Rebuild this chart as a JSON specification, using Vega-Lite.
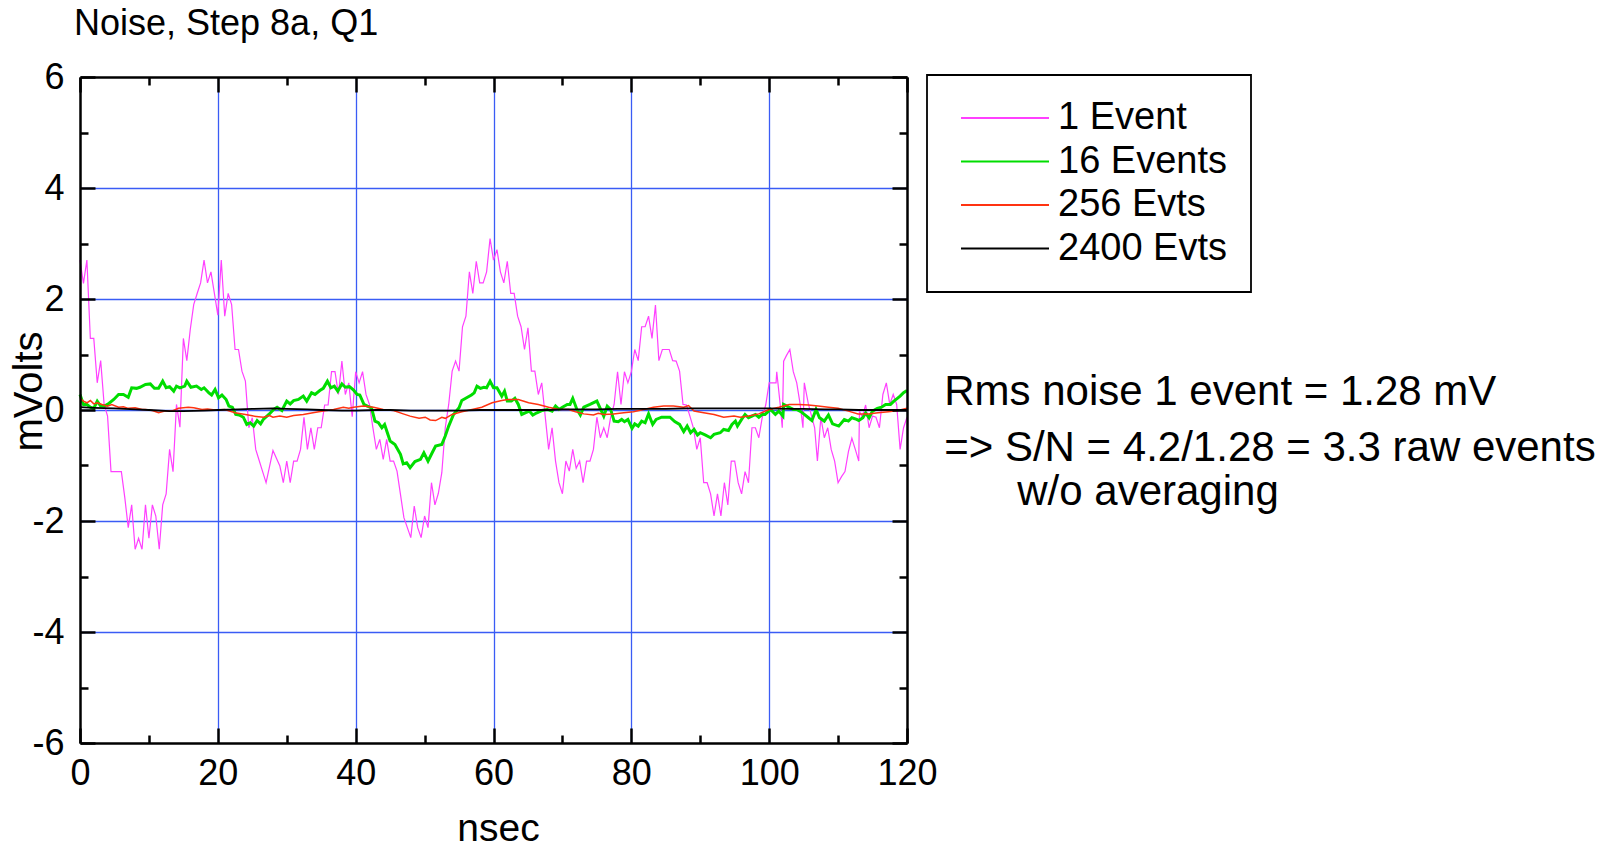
{
  "$schema": "https://vega.github.io/schema/vega-lite/v6.json",
  "width": 827,
  "height": 666,
  "autosize": {"type": "none"},
  "padding": {"left": 80, "top": 77, "right": 716, "bottom": 107},
  "background": "white",
  "title": {"text": "Noise, Step 8a, Q1", "anchor": "start", "frame": "group", "fontSize": 36, "fontWeight": "normal", "font": "Liberation Sans", "color": "black", "baseline": "alphabetic", "offset": -12, "dx": -6},
  "config": {
    "view": {"stroke": null},
    "axis": {"labelFont": "Liberation Sans", "titleFont": "Liberation Sans", "labelColor": "black", "titleColor": "black"},
    "legend": {"labelFont": "Liberation Sans"}
  },
  "datasets": {
    "ev1": [
      {"t":0,"v":2.7},{"t":0.5,"v":2.28},{"t":1,"v":2.7},{"t":1.5,"v":1.29},{"t":2,"v":1.29},{"t":2.5,"v":0.49},{"t":3,"v":0.89},{"t":3.5,"v":0.1},{"t":4,"v":-0.11},{"t":4.5,"v":-1.11},{"t":5,"v":-1.11},{"t":5.5,"v":-1.11},{"t":6,"v":-1.11},{"t":6.5,"v":-1.58},{"t":7,"v":-2.12},{"t":7.5,"v":-1.71},{"t":8,"v":-2.51},{"t":8.5,"v":-2.31},{"t":9,"v":-2.51},{"t":9.5,"v":-1.71},{"t":10,"v":-2.31},{"t":10.5,"v":-1.71},{"t":11,"v":-1.91},{"t":11.5,"v":-2.51},{"t":12,"v":-1.71},{"t":12.5,"v":-1.51},{"t":13,"v":-0.71},{"t":13.5,"v":-1.11},{"t":14,"v":0.1},{"t":14.5,"v":-0.31},{"t":15,"v":1.29},{"t":15.5,"v":0.89},{"t":16,"v":1.45},{"t":16.5,"v":1.9},{"t":17,"v":2.1},{"t":17.5,"v":2.29},{"t":18,"v":2.7},{"t":18.5,"v":2.29},{"t":19,"v":2.49},{"t":19.5,"v":2.1},{"t":20,"v":1.71},{"t":20.5,"v":2.7},{"t":21,"v":1.69},{"t":21.5,"v":2.1},{"t":22,"v":1.9},{"t":22.5,"v":1.09},{"t":23,"v":1.09},{"t":23.5,"v":0.7},{"t":24,"v":0.52},{"t":24.5,"v":-0.32},{"t":25,"v":-0.14},{"t":25.5,"v":-0.71},{"t":26,"v":-0.91},{"t":26.5,"v":-1.11},{"t":27,"v":-1.31},{"t":27.5,"v":-1.02},{"t":28,"v":-0.73},{"t":28.5,"v":-0.87},{"t":29,"v":-1.01},{"t":29.5,"v":-1.31},{"t":30,"v":-0.92},{"t":30.5,"v":-1.31},{"t":31,"v":-0.92},{"t":31.5,"v":-0.92},{"t":32,"v":-0.71},{"t":32.5,"v":-0.13},{"t":33,"v":-0.71},{"t":33.5,"v":-0.32},{"t":34,"v":-0.71},{"t":34.5,"v":-0.32},{"t":35,"v":-0.32},{"t":35.5,"v":0.09},{"t":36,"v":0.09},{"t":36.5,"v":0.69},{"t":37,"v":0.69},{"t":37.5,"v":0.28},{"t":38,"v":0.88},{"t":38.5,"v":0.28},{"t":39,"v":0.49},{"t":39.5,"v":-0.12},{"t":40,"v":0.69},{"t":40.5,"v":0.49},{"t":41,"v":0.69},{"t":41.5,"v":0.28},{"t":42,"v":0.1},{"t":42.5,"v":-0.32},{"t":43,"v":-0.71},{"t":43.5,"v":-0.53},{"t":44,"v":-0.89},{"t":44.5,"v":-0.53},{"t":45,"v":-0.92},{"t":45.5,"v":-0.92},{"t":46,"v":-1.1},{"t":46.5,"v":-1.52},{"t":47,"v":-1.94},{"t":47.5,"v":-2.12},{"t":48,"v":-2.3},{"t":48.5,"v":-1.73},{"t":49,"v":-2.12},{"t":49.5,"v":-2.3},{"t":50,"v":-1.91},{"t":50.5,"v":-2.12},{"t":51,"v":-1.31},{"t":51.5,"v":-1.71},{"t":52,"v":-1.5},{"t":52.5,"v":-1.13},{"t":53,"v":-0.32},{"t":53.5,"v":0.1},{"t":54,"v":0.7},{"t":54.5,"v":0.88},{"t":55,"v":0.7},{"t":55.5,"v":1.5},{"t":56,"v":1.69},{"t":56.5,"v":2.49},{"t":57,"v":2.1},{"t":57.5,"v":2.68},{"t":58,"v":2.29},{"t":58.5,"v":2.29},{"t":59,"v":2.49},{"t":59.5,"v":3.09},{"t":60,"v":2.7},{"t":60.5,"v":2.89},{"t":61,"v":2.49},{"t":61.5,"v":2.29},{"t":62,"v":2.68},{"t":62.5,"v":2.1},{"t":63,"v":2.1},{"t":63.5,"v":1.69},{"t":64,"v":1.5},{"t":64.5,"v":1.09},{"t":65,"v":1.48},{"t":65.5,"v":0.7},{"t":66,"v":0.7},{"t":66.5,"v":0.28},{"t":67,"v":0.49},{"t":67.5,"v":-0.11},{"t":68,"v":-0.71},{"t":68.5,"v":-0.32},{"t":69,"v":-0.92},{"t":69.5,"v":-1.31},{"t":70,"v":-1.51},{"t":70.5,"v":-0.92},{"t":71,"v":-1.1},{"t":71.5,"v":-0.71},{"t":72,"v":-1.05},{"t":72.5,"v":-0.92},{"t":73,"v":-1.31},{"t":73.5,"v":-0.92},{"t":74,"v":-0.92},{"t":74.5,"v":-0.71},{"t":75,"v":-0.13},{"t":75.5,"v":-0.5},{"t":76,"v":-0.32},{"t":76.5,"v":-0.5},{"t":77,"v":-0.13},{"t":77.5,"v":0.1},{"t":78,"v":0.69},{"t":78.5,"v":0.1},{"t":79,"v":0.69},{"t":79.5,"v":0.49},{"t":80,"v":0.69},{"t":80.5,"v":1.09},{"t":81,"v":0.89},{"t":81.5,"v":1.5},{"t":82,"v":1.5},{"t":82.5,"v":1.69},{"t":83,"v":1.29},{"t":83.5,"v":1.89},{"t":84,"v":0.89},{"t":84.5,"v":1.09},{"t":85,"v":1.09},{"t":85.5,"v":1.09},{"t":86,"v":0.89},{"t":86.5,"v":0.88},{"t":87,"v":0.7},{"t":87.5,"v":0.1},{"t":88,"v":0.09},{"t":88.5,"v":-0.11},{"t":89,"v":-0.32},{"t":89.5,"v":-0.71},{"t":90,"v":-0.5},{"t":90.5,"v":-1.31},{"t":91,"v":-1.31},{"t":91.5,"v":-1.51},{"t":92,"v":-1.91},{"t":92.5,"v":-1.51},{"t":93,"v":-1.91},{"t":93.5,"v":-1.31},{"t":94,"v":-1.71},{"t":94.5,"v":-0.92},{"t":95,"v":-0.92},{"t":95.5,"v":-1.31},{"t":96,"v":-1.51},{"t":96.5,"v":-1.11},{"t":97,"v":-1.31},{"t":97.5,"v":-0.32},{"t":98,"v":-0.32},{"t":98.5,"v":-0.5},{"t":99,"v":-0.13},{"t":99.5,"v":0.09},{"t":100,"v":0.49},{"t":100.5,"v":0.49},{"t":101,"v":0.49},{"t":101.1,"v":0.69},{"t":101.6,"v":0.1},{"t":101.9,"v":-0.32},{"t":102.1,"v":0.88},{"t":102.5,"v":0.98},{"t":103,"v":1.09},{"t":103.5,"v":0.69},{"t":104,"v":0.49},{"t":104.5,"v":0.1},{"t":104.9,"v":-0.32},{"t":105.1,"v":0.49},{"t":105.7,"v":0.1},{"t":106.2,"v":-0.13},{"t":106.6,"v":-0.32},{"t":107,"v":-0.92},{"t":107.5,"v":-0.13},{"t":108,"v":-0.5},{"t":108.5,"v":-0.32},{"t":109,"v":-0.71},{"t":109.5,"v":-0.92},{"t":110,"v":-1.31},{"t":110.5,"v":-1.2},{"t":111,"v":-1.11},{"t":111.5,"v":-0.75},{"t":112,"v":-0.51},{"t":112.5,"v":-0.71},{"t":113,"v":-0.92},{"t":113.1,"v":-0.02},{"t":113.5,"v":-0.13},{"t":114,"v":0.09},{"t":114.5,"v":-0.32},{"t":115,"v":-0.11},{"t":115.5,"v":-0.13},{"t":116,"v":-0.32},{"t":116.5,"v":0.28},{"t":117,"v":0.49},{"t":117.5,"v":0.1},{"t":118,"v":0.28},{"t":118.5,"v":0.1},{"t":119,"v":-0.71},{"t":119.5,"v":-0.32},{"t":120,"v":-0.13}
    ],
    "ev16": [
      {"t":0,"v":0.28},{"t":0.5,"v":0.1},{"t":1,"v":0.1},{"t":1.5,"v":0.05},{"t":2,"v":0.03},{"t":2.5,"v":0.16},{"t":3,"v":0.07},{"t":3.5,"v":0.07},{"t":4,"v":0.1},{"t":4.9,"v":0.19},{"t":5.6,"v":0.28},{"t":6.3,"v":0.28},{"t":7,"v":0.23},{"t":7.5,"v":0.4},{"t":8.2,"v":0.39},{"t":8.7,"v":0.41},{"t":9.5,"v":0.46},{"t":10.2,"v":0.47},{"t":10.8,"v":0.39},{"t":11.4,"v":0.39},{"t":12,"v":0.52},{"t":12.5,"v":0.4},{"t":13,"v":0.42},{"t":13.6,"v":0.34},{"t":14,"v":0.43},{"t":14.5,"v":0.4},{"t":15.2,"v":0.43},{"t":15.5,"v":0.52},{"t":16.1,"v":0.41},{"t":16.9,"v":0.43},{"t":17.6,"v":0.37},{"t":18,"v":0.4},{"t":18.7,"v":0.31},{"t":19.1,"v":0.27},{"t":19.6,"v":0.37},{"t":20.1,"v":0.22},{"t":20.6,"v":0.27},{"t":21.2,"v":0.19},{"t":21.6,"v":0.07},{"t":22.1,"v":0.05},{"t":22.6,"v":-0.08},{"t":23.1,"v":-0.09},{"t":23.7,"v":-0.13},{"t":24.2,"v":-0.26},{"t":24.7,"v":-0.23},{"t":25.2,"v":-0.29},{"t":25.7,"v":-0.19},{"t":26.2,"v":-0.25},{"t":26.6,"v":-0.17},{"t":27.4,"v":-0.08},{"t":28.1,"v":0.01},{"t":28.6,"v":0.05},{"t":29.3,"v":-0.01},{"t":30,"v":0.16},{"t":30.5,"v":0.11},{"t":31,"v":0.17},{"t":31.7,"v":0.19},{"t":32.4,"v":0.25},{"t":32.9,"v":0.16},{"t":33.6,"v":0.31},{"t":34.1,"v":0.28},{"t":34.8,"v":0.35},{"t":35.3,"v":0.39},{"t":35.9,"v":0.52},{"t":36.4,"v":0.4},{"t":36.9,"v":0.43},{"t":37.4,"v":0.34},{"t":38,"v":0.47},{"t":38.5,"v":0.41},{"t":39.1,"v":0.42},{"t":39.7,"v":0.36},{"t":40.2,"v":0.28},{"t":40.6,"v":0.27},{"t":41.2,"v":0.1},{"t":41.7,"v":0.07},{"t":42.3,"v":0.04},{"t":42.8,"v":-0.2},{"t":43.3,"v":-0.23},{"t":43.8,"v":-0.32},{"t":44.2,"v":-0.26},{"t":45,"v":-0.56},{"t":45.7,"v":-0.62},{"t":46.5,"v":-0.8},{"t":46.9,"v":-0.97},{"t":47.4,"v":-0.95},{"t":47.9,"v":-1.04},{"t":48.6,"v":-0.93},{"t":49.4,"v":-0.89},{"t":49.9,"v":-0.77},{"t":50.5,"v":-0.92},{"t":51.1,"v":-0.77},{"t":51.6,"v":-0.65},{"t":52.5,"v":-0.62},{"t":53,"v":-0.47},{"t":53.5,"v":-0.29},{"t":54.2,"v":-0.08},{"t":55,"v":0.04},{"t":55.4,"v":0.17},{"t":56.1,"v":0.22},{"t":56.8,"v":0.27},{"t":57.2,"v":0.31},{"t":57.6,"v":0.43},{"t":58.1,"v":0.39},{"t":58.6,"v":0.41},{"t":59,"v":0.4},{"t":59.5,"v":0.52},{"t":60,"v":0.4},{"t":60.5,"v":0.4},{"t":61.2,"v":0.25},{"t":61.6,"v":0.34},{"t":62,"v":0.16},{"t":62.6,"v":0.16},{"t":63.1,"v":0.21},{"t":63.6,"v":0.1},{"t":64.1,"v":-0.08},{"t":64.6,"v":-0.05},{"t":65.2,"v":-0.02},{"t":65.7,"v":-0.09},{"t":66.3,"v":-0.05},{"t":67,"v":-0.01},{"t":67.8,"v":0.01},{"t":68.5,"v":-0.02},{"t":69,"v":0.07},{"t":69.5,"v":0.01},{"t":70,"v":0.05},{"t":70.7,"v":0.1},{"t":71.1,"v":0.1},{"t":71.5,"v":0.21},{"t":72.1,"v":0.01},{"t":72.6,"v":-0.09},{"t":73.1,"v":0.05},{"t":74,"v":0.1},{"t":75,"v":0.16},{"t":76,"v":-0.11},{"t":76.5,"v":0.07},{"t":77,"v":0.01},{"t":77.5,"v":-0.2},{"t":78.1,"v":-0.21},{"t":78.6,"v":-0.17},{"t":79,"v":-0.21},{"t":79.5,"v":-0.17},{"t":80.1,"v":-0.33},{"t":80.5,"v":-0.25},{"t":81,"v":-0.29},{"t":81.5,"v":-0.2},{"t":82,"v":-0.23},{"t":82.5,"v":-0.07},{"t":83.1,"v":-0.26},{"t":83.6,"v":-0.17},{"t":84.4,"v":-0.13},{"t":85.6,"v":-0.13},{"t":86.3,"v":-0.21},{"t":87,"v":-0.26},{"t":87.6,"v":-0.39},{"t":88.1,"v":-0.29},{"t":88.6,"v":-0.41},{"t":89.1,"v":-0.35},{"t":89.6,"v":-0.45},{"t":90,"v":-0.41},{"t":90.7,"v":-0.45},{"t":91.5,"v":-0.5},{"t":92,"v":-0.44},{"t":92.9,"v":-0.41},{"t":93.4,"v":-0.35},{"t":94.1,"v":-0.37},{"t":94.6,"v":-0.26},{"t":95.1,"v":-0.2},{"t":95.4,"v":-0.29},{"t":96,"v":-0.17},{"t":96.5,"v":-0.08},{"t":97,"v":-0.14},{"t":97.5,"v":-0.11},{"t":98,"v":-0.08},{"t":98.5,"v":-0.13},{"t":99,"v":-0.08},{"t":99.4,"v":-0.08},{"t":100.2,"v":0.01},{"t":100.9,"v":-0.08},{"t":101.4,"v":-0.02},{"t":102,"v":-0.11},{"t":102.1,"v":0.1},{"t":102.9,"v":0.05},{"t":103.5,"v":0.01},{"t":104,"v":0.01},{"t":104.6,"v":-0.03},{"t":105.1,"v":-0.08},{"t":105.7,"v":-0.14},{"t":106.2,"v":-0.19},{"t":106.8,"v":0.01},{"t":107.3,"v":-0.14},{"t":108,"v":-0.2},{"t":108.6,"v":-0.09},{"t":109.2,"v":-0.25},{"t":110.1,"v":-0.29},{"t":110.9,"v":-0.17},{"t":111.5,"v":-0.2},{"t":112,"v":-0.14},{"t":112.7,"v":-0.17},{"t":113,"v":-0.19},{"t":113.6,"v":-0.14},{"t":114,"v":-0.05},{"t":114.5,"v":-0.14},{"t":115,"v":-0.02},{"t":115.7,"v":0.03},{"t":116.3,"v":0.05},{"t":116.9,"v":0.1},{"t":117.6,"v":0.1},{"t":118.1,"v":0.16},{"t":118.6,"v":0.21},{"t":119,"v":0.25},{"t":119.5,"v":0.31},{"t":120,"v":0.35}
    ],
    "ev256": [
      {"t":0,"v":0.21},{"t":0.5,"v":0.16},{"t":1,"v":0.13},{"t":1.5,"v":0.17},{"t":2,"v":0.11},{"t":2.5,"v":0.13},{"t":3.2,"v":0.1},{"t":4,"v":0.07},{"t":4.6,"v":0.1},{"t":5.6,"v":0.05},{"t":6.3,"v":0.06},{"t":7,"v":0.03},{"t":8,"v":0.04},{"t":9,"v":0.01},{"t":9.5,"v":0.01},{"t":10.5,"v":-0.01},{"t":11.4,"v":-0.05},{"t":12.3,"v":-0.02},{"t":13.3,"v":-0.02},{"t":14.3,"v":0.03},{"t":15.7,"v":0.05},{"t":16.5,"v":0.04},{"t":17.7,"v":0.01},{"t":18.5,"v":0.02},{"t":19.6,"v":0},{"t":21,"v":0.01},{"t":22.5,"v":-0.05},{"t":24,"v":-0.08},{"t":25.2,"v":-0.11},{"t":26.6,"v":-0.13},{"t":27.5,"v":-0.1},{"t":28,"v":-0.13},{"t":29,"v":-0.11},{"t":30,"v":-0.13},{"t":31,"v":-0.1},{"t":32.4,"v":-0.08},{"t":33.8,"v":-0.05},{"t":35.3,"v":-0.02},{"t":36.8,"v":0.01},{"t":38.2,"v":0.05},{"t":39,"v":0.03},{"t":39.7,"v":0.05},{"t":41.1,"v":0.07},{"t":42.6,"v":0.05},{"t":44,"v":0.01},{"t":45.5,"v":-0.01},{"t":46.9,"v":-0.07},{"t":47.9,"v":-0.11},{"t":49.2,"v":-0.15},{"t":50.1,"v":-0.13},{"t":50.8,"v":-0.18},{"t":51.6,"v":-0.19},{"t":52.5,"v":-0.13},{"t":53,"v":-0.15},{"t":54,"v":-0.08},{"t":55.4,"v":-0.03},{"t":56.9,"v":0.01},{"t":58.3,"v":0.05},{"t":59.8,"v":0.13},{"t":61.2,"v":0.17},{"t":62.1,"v":0.19},{"t":63.6,"v":0.19},{"t":65.1,"v":0.13},{"t":66.5,"v":0.1},{"t":68,"v":0.05},{"t":69.5,"v":0.01},{"t":70.9,"v":0.01},{"t":71.9,"v":-0.03},{"t":73.1,"v":-0.07},{"t":74.5,"v":-0.09},{"t":75.2,"v":-0.06},{"t":76,"v":-0.08},{"t":77.4,"v":-0.07},{"t":78.9,"v":-0.05},{"t":80.3,"v":-0.03},{"t":81.8,"v":0.01},{"t":83.2,"v":0.05},{"t":84.7,"v":0.07},{"t":86.1,"v":0.07},{"t":87.6,"v":0.05},{"t":88.3,"v":0.08},{"t":89.1,"v":-0.02},{"t":90.5,"v":-0.05},{"t":92,"v":-0.08},{"t":93.4,"v":-0.13},{"t":94.9,"v":-0.11},{"t":95.8,"v":-0.13},{"t":97,"v":-0.11},{"t":98.5,"v":-0.07},{"t":100,"v":0.01},{"t":101.4,"v":0.05},{"t":102.9,"v":0.1},{"t":104.3,"v":0.1},{"t":105.7,"v":0.09},{"t":107.1,"v":0.07},{"t":108.6,"v":0.05},{"t":110,"v":0.03},{"t":111.5,"v":-0.02},{"t":112.9,"v":-0.07},{"t":114.4,"v":-0.07},{"t":115.8,"v":-0.05},{"t":117.3,"v":-0.03},{"t":118.7,"v":-0.01},{"t":120,"v":0.03}
    ],
    "ev2400": [
      {"t":0,"v":0.05},{"t":2,"v":0.04},{"t":5,"v":0.03},{"t":8,"v":0.01},{"t":10,"v":0},{"t":13,"v":-0.02},{"t":15,"v":-0.02},{"t":18,"v":-0.01},{"t":20,"v":0},{"t":23,"v":0.01},{"t":25,"v":0.02},{"t":28,"v":0.03},{"t":30,"v":0.02},{"t":33,"v":0.01},{"t":35,"v":0},{"t":38,"v":-0.01},{"t":40,"v":-0.01},{"t":43,"v":0},{"t":45,"v":0},{"t":48,"v":-0.01},{"t":50,"v":-0.01},{"t":53,"v":-0.01},{"t":55,"v":-0.01},{"t":58,"v":0},{"t":60,"v":0},{"t":63,"v":0},{"t":65,"v":0},{"t":68,"v":0},{"t":70,"v":0.01},{"t":73,"v":0.01},{"t":75,"v":0.01},{"t":78,"v":0.02},{"t":80,"v":0.02},{"t":83,"v":0.02},{"t":85,"v":0.02},{"t":88,"v":0.03},{"t":90,"v":0.03},{"t":93,"v":0.03},{"t":95,"v":0.03},{"t":98,"v":0.03},{"t":100,"v":0.03},{"t":103,"v":0.02},{"t":105,"v":0.02},{"t":108,"v":0.01},{"t":110,"v":0.01},{"t":113,"v":0},{"t":115,"v":0},{"t":118,"v":0},{"t":120,"v":0}
    ],
    "notes": [
      {"note": "Rms noise 1 event = 1.28 mV", "t": 125.4, "v": 0.09},
      {"note": "=> S/N = 4.2/1.28 = 3.3 raw events", "t": 125.4, "v": -0.92},
      {"note": "w/o averaging", "t": 136.0, "v": -1.71}
    ]
  },
  "resolve": {"axis": {"x": "independent", "y": "independent"}},
  "layer": [
    {
      "data": {"name": "ev1"},
      "mark": {"type": "line", "strokeWidth": 1.2},
      "encoding": {
        "x": {"field": "t", "type": "quantitative", "scale": {"domain": [0, 120], "nice": false, "zero": false},
          "axis": {"orient": "bottom", "values": [0, 20, 40, 60, 80, 100, 120], "title": "nsec", "labelFontSize": 36, "labelPadding": 13, "labelFlush": false, "labelOverlap": false, "ticks": false, "tickSize": 0, "domain": false, "grid": true, "gridColor": {"condition": {"test": "datum.value === 0 || datum.value === 120", "value": "transparent"}, "value": "#3a5cf5"}, "gridWidth": 1.3, "titleFontSize": 39, "titleFontWeight": "normal", "titleX": 418, "titleY": 85, "titleBaseline": "middle", "titleAlign": "center"}},
        "y": {"field": "v", "type": "quantitative", "scale": {"domain": [-6, 6], "nice": false, "zero": false},
          "axis": {"orient": "left", "values": [-6, -4, -2, 0, 2, 4, 6], "labelExpr": "replace(datum.label, '\u2212', '-')", "title": "mVolts", "labelFontSize": 36, "labelPadding": 16, "labelOverlap": false, "labelFlush": false, "ticks": false, "tickSize": 0, "domain": false, "grid": true, "gridColor": {"condition": {"test": "datum.value === 6 || datum.value === -6", "value": "transparent"}, "value": "#3a5cf5"}, "gridWidth": 1.3, "titleFontSize": 40, "titleFontWeight": "normal", "titleX": -51, "titleY": 314, "titleAngle": 270, "titleBaseline": "middle", "titleAlign": "center"}},
        "color": {"datum": "1 Event", "type": "nominal",
          "scale": {"domain": ["1 Event", "16 Events", "256 Evts", "2400 Evts"], "range": ["#ff40ff", "#00dd00", "#ff3311", "#000000"]},
          "legend": {"orient": "none", "legendX": 847, "legendY": -2, "title": null, "symbolType": "stroke", "symbolSize": 7744, "symbolStrokeWidth": 2, "symbolOffset": 9, "clipHeight": 38, "rowPadding": 5.5, "labelFontSize": 38, "labelColor": "black", "labelOffset": 8, "labelLimit": 400, "padding": 24, "strokeColor": "black", "fillColor": "white", "cornerRadius": 0,
            "encode": {"legend": {"update": {"strokeWidth": {"value": 1.8}}}}}}
      }
    },
    {
      "data": {"name": "ev16"},
      "mark": {"type": "line", "strokeWidth": 3},
      "encoding": {
        "x": {"field": "t", "type": "quantitative", "scale": {"domain": [0, 120], "nice": false, "zero": false}, "axis": null},
        "y": {"field": "v", "type": "quantitative", "scale": {"domain": [-6, 6], "nice": false, "zero": false}, "axis": null},
        "color": {"datum": "16 Events", "type": "nominal"}
      }
    },
    {
      "data": {"name": "ev256"},
      "mark": {"type": "line", "strokeWidth": 1.5},
      "encoding": {
        "x": {"field": "t", "type": "quantitative", "scale": {"domain": [0, 120], "nice": false, "zero": false}, "axis": null},
        "y": {"field": "v", "type": "quantitative", "scale": {"domain": [-6, 6], "nice": false, "zero": false}, "axis": null},
        "color": {"datum": "256 Evts", "type": "nominal"}
      }
    },
    {
      "data": {"name": "ev2400"},
      "mark": {"type": "line", "strokeWidth": 1.8},
      "encoding": {
        "x": {"field": "t", "type": "quantitative", "scale": {"domain": [0, 120], "nice": false, "zero": false}, "axis": null},
        "y": {"field": "v", "type": "quantitative", "scale": {"domain": [-6, 6], "nice": false, "zero": false}, "axis": null},
        "color": {"datum": "2400 Evts", "type": "nominal"}
      }
    },
    {
      "data": {"name": "ev2400"},
      "mark": {"type": "point", "opacity": 0},
      "encoding": {
        "x": {"field": "t", "type": "quantitative", "scale": {"domain": [0, 120], "nice": false, "zero": false},
          "axis": {"orient": "bottom", "values": [0, 10, 20, 30, 40, 50, 60, 70, 80, 90, 100, 110, 120], "labels": false, "title": null, "grid": false, "domain": true, "domainColor": "black", "domainWidth": 2.5, "ticks": true, "tickColor": "black", "tickWidth": 2.5, "tickSize": {"condition": {"test": "datum.value % 20 === 0", "value": -15}, "value": -8}, "zindex": 1}},
        "y": {"field": "v", "type": "quantitative", "scale": {"domain": [-6, 6], "nice": false, "zero": false},
          "axis": {"orient": "left", "values": [-6, -5, -4, -3, -2, -1, 0, 1, 2, 3, 4, 5, 6], "labels": false, "title": null, "grid": false, "domain": true, "domainColor": "black", "domainWidth": 2.5, "ticks": true, "tickColor": "black", "tickWidth": 2.5, "tickSize": {"condition": {"test": "datum.value % 2 === 0", "value": -15}, "value": -8}, "zindex": 1}}
      }
    },
    {
      "data": {"name": "ev2400"},
      "mark": {"type": "point", "opacity": 0},
      "encoding": {
        "x": {"field": "t", "type": "quantitative", "scale": {"domain": [0, 120], "nice": false, "zero": false},
          "axis": {"orient": "top", "values": [0, 10, 20, 30, 40, 50, 60, 70, 80, 90, 100, 110, 120], "labels": false, "title": null, "grid": false, "domain": true, "domainColor": "black", "domainWidth": 2.5, "ticks": true, "tickColor": "black", "tickWidth": 2.5, "tickSize": {"condition": {"test": "datum.value % 20 === 0", "value": -15}, "value": -8}, "zindex": 1}},
        "y": {"field": "v", "type": "quantitative", "scale": {"domain": [-6, 6], "nice": false, "zero": false},
          "axis": {"orient": "right", "values": [-6, -5, -4, -3, -2, -1, 0, 1, 2, 3, 4, 5, 6], "labels": false, "title": null, "grid": false, "domain": true, "domainColor": "black", "domainWidth": 2.5, "ticks": true, "tickColor": "black", "tickWidth": 2.5, "tickSize": {"condition": {"test": "datum.value % 2 === 0", "value": -15}, "value": -8}, "zindex": 1}}
      }
    },
    {
      "data": {"name": "notes"},
      "mark": {"type": "text", "align": "left", "baseline": "alphabetic", "fontSize": 42, "font": "Liberation Sans", "color": "black"},
      "encoding": {
        "x": {"field": "t", "type": "quantitative", "scale": {"domain": [0, 120], "nice": false, "zero": false}, "axis": null},
        "y": {"field": "v", "type": "quantitative", "scale": {"domain": [-6, 6], "nice": false, "zero": false}, "axis": null},
        "text": {"field": "note"}
      }
    }
  ]
}
